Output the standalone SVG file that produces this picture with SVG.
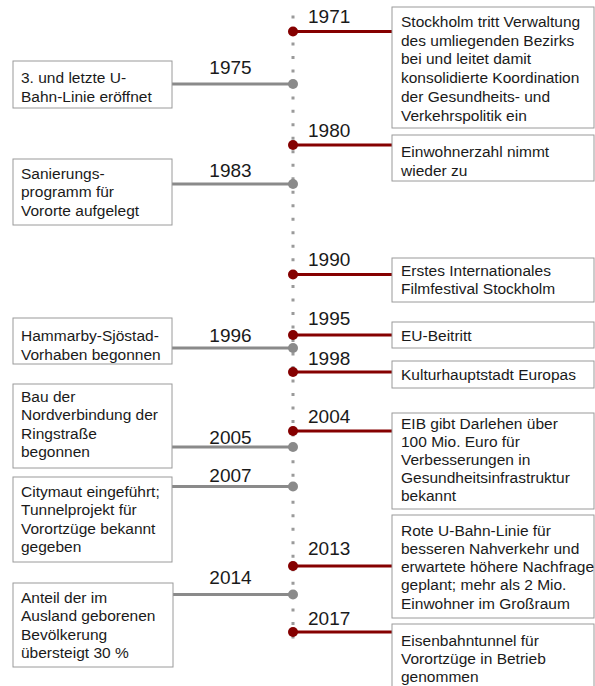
<svg xmlns="http://www.w3.org/2000/svg" width="595" height="686" viewBox="0 0 595 686">
<style>
.box{fill:#fff;stroke:#9a9a9a;stroke-width:1}
text{font-family:"Liberation Sans",Arial,Helvetica,sans-serif;fill:#1a1a1a}
.t{font-size:15.5px}
.yr{font-size:19px}
.yl{text-anchor:middle}
.axis{stroke:#9a9a9a;stroke-width:3;stroke-dasharray:3 10.48;fill:none}
.lc{stroke:#8a8a8a;stroke-width:3}
.rc{stroke:#850000;stroke-width:3}
.gd{fill:#8a8a8a}
.rd{fill:#850000}
</style>
<rect width="595" height="686" fill="#fff"/>
<g id="connectors">
<line class="axis" x1="293" y1="15.5" x2="293" y2="640"/>
<line class="rc" x1="293" y1="31.5" x2="392" y2="31.5"/>
<line class="rc" x1="293" y1="145" x2="392" y2="145"/>
<line class="rc" x1="293" y1="274.5" x2="392" y2="274.5"/>
<line class="rc" x1="293" y1="335" x2="392" y2="335"/>
<line class="rc" x1="293" y1="372" x2="392" y2="372"/>
<line class="rc" x1="293" y1="431" x2="392" y2="431"/>
<line class="rc" x1="293" y1="566" x2="392" y2="566"/>
<line class="rc" x1="293" y1="632" x2="392" y2="632"/>
<line class="lc" x1="172" y1="84" x2="293" y2="84"/>
<line class="lc" x1="172" y1="184" x2="293" y2="184"/>
<line class="lc" x1="172" y1="348" x2="293" y2="348"/>
<line class="lc" x1="172" y1="447" x2="293" y2="447"/>
<line class="lc" x1="172" y1="486.5" x2="293" y2="486.5"/>
<line class="lc" x1="173" y1="594.5" x2="293" y2="594.5"/>
<circle class="rd" cx="293" cy="31.5" r="5"/>
<circle class="rd" cx="293" cy="145" r="5"/>
<circle class="rd" cx="293" cy="274.5" r="5"/>
<circle class="rd" cx="293" cy="335" r="5"/>
<circle class="rd" cx="293" cy="372" r="5"/>
<circle class="rd" cx="293" cy="431" r="5"/>
<circle class="rd" cx="293" cy="566" r="5"/>
<circle class="rd" cx="293" cy="632" r="5"/>
<circle class="gd" cx="293" cy="84" r="5"/>
<circle class="gd" cx="293" cy="184" r="5"/>
<circle class="gd" cx="293" cy="348" r="5"/>
<circle class="gd" cx="293" cy="447" r="5"/>
<circle class="gd" cx="293" cy="486.5" r="5"/>
<circle class="gd" cx="293" cy="594.5" r="5"/>
</g>
<g id="e1971">
<text class="yr" x="308" y="23.3">1971</text>
<rect class="box" x="392" y="7" width="202" height="121"/>
<text class="t" x="401" y="27">Stockholm tritt Verwaltung</text>
<text class="t" x="401" y="45.7">des umliegenden Bezirks</text>
<text class="t" x="401" y="64.4">bei und leitet damit</text>
<text class="t" x="401" y="83.1">konsolidierte Koordination</text>
<text class="t" x="401" y="101.8">der Gesundheits- und</text>
<text class="t" x="401" y="120.5">Verkehrspolitik ein</text>
</g>
<g id="e1980">
<text class="yr" x="308" y="136.7">1980</text>
<rect class="box" x="392" y="135" width="202" height="46"/>
<text class="t" x="401" y="157">Einwohnerzahl nimmt</text>
<text class="t" x="401" y="175.5">wieder zu</text>
</g>
<g id="e1990">
<text class="yr" x="308" y="266">1990</text>
<rect class="box" x="392" y="258" width="202" height="44"/>
<text class="t" x="401" y="275.5">Erstes Internationales</text>
<text class="t" x="401" y="294">Filmfestival Stockholm</text>
</g>
<g id="e1995">
<text class="yr" x="308" y="325">1995</text>
<rect class="box" x="392" y="322" width="202" height="26"/>
<text class="t" x="401" y="341">EU-Beitritt</text>
</g>
<g id="e1998">
<text class="yr" x="308" y="365">1998</text>
<rect class="box" x="392" y="361" width="202" height="27"/>
<text class="t" x="401" y="379.5">Kulturhauptstadt Europas</text>
</g>
<g id="e2004">
<text class="yr" x="308" y="423.3">2004</text>
<rect class="box" x="392" y="413" width="202" height="96"/>
<text class="t" x="401" y="428.5">EIB gibt Darlehen über</text>
<text class="t" x="401" y="446.5">100 Mio. Euro für</text>
<text class="t" x="401" y="464.5">Verbesserungen in</text>
<text class="t" x="401" y="482.5">Gesundheitsinfrastruktur</text>
<text class="t" x="401" y="500.5">bekannt</text>
</g>
<g id="e2013">
<text class="yr" x="308" y="555">2013</text>
<rect class="box" x="392" y="515" width="202" height="103"/>
<text class="t" x="401" y="535.5">Rote U-Bahn-Linie für</text>
<text class="t" x="401" y="553.8">besseren Nahverkehr und</text>
<text class="t" x="401" y="572.1">erwartete höhere Nachfrage</text>
<text class="t" x="401" y="590.4">geplant; mehr als 2 Mio.</text>
<text class="t" x="401" y="608.7">Einwohner im Großraum</text>
</g>
<g id="e2017">
<text class="yr" x="308" y="625">2017</text>
<rect class="box" x="392" y="624" width="202" height="80"/>
<text class="t" x="401" y="645.5">Eisenbahntunnel für</text>
<text class="t" x="401" y="663.8">Vorortzüge in Betrieb</text>
<text class="t" x="401" y="682">genommen</text>
</g>
<g id="e1975">
<text class="yr yl" x="230.5" y="73.5">1975</text>
<rect class="box" x="13" y="61" width="159" height="47"/>
<text class="t" x="21" y="83.3">3. und letzte U-</text>
<text class="t" x="21" y="101.5">Bahn-Linie eröffnet</text>
</g>
<g id="e1983">
<text class="yr yl" x="230.5" y="176.5">1983</text>
<rect class="box" x="13" y="159" width="159" height="66"/>
<text class="t" x="21" y="178.5">Sanierungs-</text>
<text class="t" x="21" y="197">programm für</text>
<text class="t" x="21" y="215.5">Vororte aufgelegt</text>
</g>
<g id="e1996">
<text class="yr yl" x="230.5" y="341.7">1996</text>
<rect class="box" x="13" y="318" width="159" height="46"/>
<text class="t" x="21" y="341.3">Hammarby-Sjöstad-</text>
<text class="t" x="21" y="359.5">Vorhaben begonnen</text>
</g>
<g id="e2005">
<text class="yr yl" x="230.5" y="444">2005</text>
<rect class="box" x="13" y="384" width="159" height="84"/>
<text class="t" x="21" y="402">Bau der</text>
<text class="t" x="21" y="420.3">Nordverbindung der</text>
<text class="t" x="21" y="438.6">Ringstraße</text>
<text class="t" x="21" y="456.9">begonnen</text>
</g>
<g id="e2007">
<text class="yr yl" x="230.5" y="481.5">2007</text>
<rect class="box" x="13" y="477" width="159" height="85"/>
<text class="t" x="21" y="497">Citymaut eingeführt;</text>
<text class="t" x="21" y="515.3">Tunnelprojekt für</text>
<text class="t" x="21" y="533.6">Vorortzüge bekannt</text>
<text class="t" x="21" y="551.9">gegeben</text>
</g>
<g id="e2014">
<text class="yr yl" x="230.5" y="584">2014</text>
<rect class="box" x="13" y="583" width="160" height="84"/>
<text class="t" x="21" y="603">Anteil der im</text>
<text class="t" x="21" y="621.3">Ausland geborenen</text>
<text class="t" x="21" y="639.6">Bevölkerung</text>
<text class="t" x="21" y="657.9">übersteigt 30 %</text>
</g>
</svg>
